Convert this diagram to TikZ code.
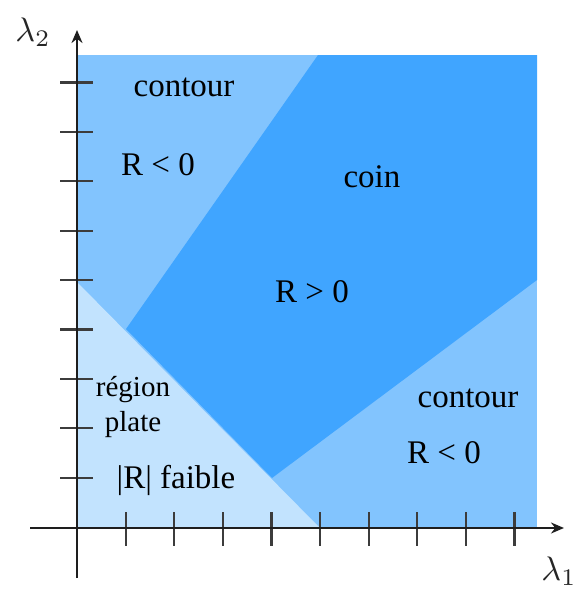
\documentclass[tikz,border=0pt]{standalone}
\usepackage{fontspec}
\setmainfont{Liberation Serif}
\usetikzlibrary{arrows.meta}
\definecolor{cmed}{RGB}{130,196,254}
\definecolor{cdark}{RGB}{64,165,255}
\definecolor{clight}{RGB}{194,227,254}
\definecolor{caxis}{RGB}{30,30,30}
\definecolor{ctick}{RGB}{60,60,60}
\tikzset{
  axisline/.style={line width=2.6pt, draw=caxis, -{Stealth[length=13pt,width=11pt]}},
  tickline/.style={line width=2.2pt, draw=ctick},
  bigtxt/.style={font=\fontsize{33}{36}\selectfont, text=black, inner sep=0pt},
  smalltxt/.style={font=\fontsize{29}{32}\selectfont, text=black, inner sep=0pt},
  lamtxt/.style={inner sep=0pt, scale=3.4, text=black!85}
}
\begin{document}
\begin{tikzpicture}[x=1pt,y=-1pt]
\useasboundingbox (0,0) rectangle (578,589);
% regions
\fill[cmed] (77,55) rectangle (537,527);
\fill[cdark] (126,329) -- (318,55) -- (537,55) -- (537,280) -- (272,478) -- cycle;
\fill[clight] (77,282) -- (77,527) -- (319,527) -- cycle;
% ticks
\foreach \k in {1,...,9} {
  \draw[tickline] (77+48.6*\k,512) -- (77+48.6*\k,546);
  \draw[tickline] (60,527-49.4*\k) -- (93,527-49.4*\k);
}
% axes
\coordinate (xs) at (30,528);
\coordinate (xe) at (564,528);
\coordinate (ys) at (77,578);
\coordinate (ye) at (77,30);
\draw[axisline] (xs) -- (xe);
\draw[axisline] (ys) -- (ye);
\node[lamtxt] (l2) at (33,32) {$\lambda_2$};
\node[lamtxt] (l1) at (559,571) {$\lambda_1$};
% labels
\node[bigtxt] (c1) at (184,87) {contour};
\node[bigtxt] (r1) at (158,165) {R < 0};
\node[bigtxt] (co) at (372,177) {coin};
\node[bigtxt] (r2) at (312,292) {R > 0};
\node[smalltxt] (rg) at (133,390) {région};
\node[smalltxt] (pl) at (133,425) {plate};
\node[bigtxt] (rf) at (176,480) {|R| faible};
\node[bigtxt] (c2) at (468,398) {contour};
\node[bigtxt] (r3) at (444,453) {R < 0};
\end{tikzpicture}
\end{document}
